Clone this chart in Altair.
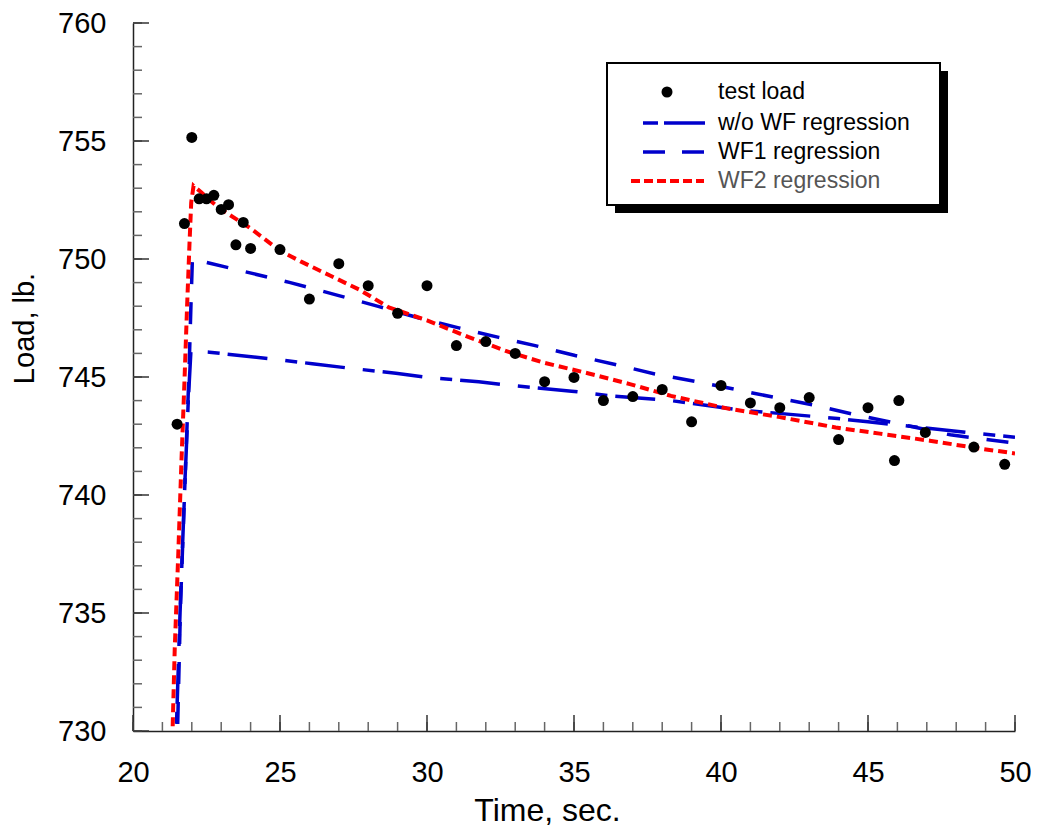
import altair as alt
import pandas as pd

FONT = "Liberation Sans"

# ---- data ----
test_time = [21.5, 21.75, 22.0, 22.25, 22.5, 22.75, 23.0, 23.25, 23.5, 23.75,
             24.0, 25.0, 26.0, 27.0, 28.0, 29.0, 30.0, 31.0, 32.0, 33.0,
             34.0, 35.0, 36.0, 37.0, 38.0, 39.0, 40.0, 41.0, 42.0, 43.0,
             44.0, 45.0, 45.9, 46.05, 46.95, 48.6, 49.65]
test_load = [743.0, 751.5, 755.15, 752.55, 752.55, 752.7, 752.1, 752.3, 750.6, 751.55,
             750.45, 750.4, 748.3, 749.8, 748.87, 747.7, 748.87, 746.33, 746.5, 746.0,
             744.8, 744.98, 744.0, 744.17, 744.47, 743.1, 744.64, 743.9, 743.7, 744.13,
             742.35, 743.7, 741.46, 744.0, 742.65, 742.03, 741.3]

wo_time = [21.48, 21.6, 21.75, 21.88, 21.97, 22.6, 25.0, 26.1, 27.46, 28.94, 30.17,
           31.76, 32.88, 34.92, 36.27, 38.3, 40.68, 43.97, 45.0, 48.4, 50.0]
wo_load = [730.3, 735.0, 740.0, 744.0, 746.1, 746.05, 745.73, 745.56, 745.36, 745.16, 744.96,
           744.8, 744.64, 744.4, 744.2, 744.0, 743.6, 743.24, 743.1, 742.65, 742.45]

wf1_time = [21.52, 21.62, 21.78, 21.9, 21.97, 22.02, 25.32, 27.0, 28.37, 29.73,
            31.08, 32.44, 33.68, 35.04, 36.4, 37.75, 39.2, 40.5, 41.8, 43.2,
            44.5, 46.3, 47.8, 50.0]
wf1_load = [730.3, 735.5, 741.0, 745.0, 748.0, 750.0, 749.01, 748.45, 747.98, 747.5,
            747.08, 746.68, 746.33, 745.91, 745.53, 745.13, 744.8, 744.47, 744.14, 743.8,
            743.42, 742.95, 742.55, 742.2]

wf2_time = [21.35, 21.42, 21.54, 21.65, 21.75, 21.84, 21.92, 21.98, 22.06, 22.15,
            22.3, 22.6, 23.0, 23.5, 24.0, 25.0, 25.7, 26.7, 27.7, 28.7,
            30.0, 31.4, 32.8, 34.0, 35.5, 36.9, 38.3, 40.2, 42.0, 43.9,
            45.4, 47.1, 48.8, 50.0]
wf2_load = [730.2, 733.5, 737.5, 741.5, 744.8, 748.0, 750.6, 752.4, 753.1, 753.0,
            752.85, 752.5, 752.1, 751.7, 751.3, 750.35, 749.9, 749.3, 748.7, 747.95,
            747.4, 746.7, 746.05, 745.6, 745.15, 744.7, 744.2, 743.67, 743.3, 742.86,
            742.6, 742.3, 741.97, 741.76]

series_names = ["test load", "w/o WF regression", "WF1 regression", "WF2 regression"]

x_labels = [20, 25, 30, 35, 40, 45, 50]
y_labels = [730, 735, 740, 745, 750, 755, 760]
x_minor = list(range(20, 51))
y_minor = list(range(730, 761))

W, H = 882, 708

xs = alt.Scale(domain=[20, 50], nice=False, zero=False)
ys = alt.Scale(domain=[730, 760], nice=False, zero=False)

xaxis = alt.Axis(values=x_labels, title="Time, sec.", format="d",
                 labelFont=FONT, labelFontSize=29, labelColor="black", labelPadding=27,
                 labelFlush=False, labelOverlap=False,
                 ticks=False, tickSize=0, grid=False,
                 domainColor="#222222", domainWidth=1.5,
                 titleFont=FONT, titleFontSize=32, titleFontWeight="normal", titleColor="black",
                 titleX=414, titleY=89, titleAlign="center", titleBaseline="alphabetic")
yaxis = alt.Axis(values=y_labels, title="Load, lb.", format="d",
                 labelFont=FONT, labelFontSize=29, labelColor="black", labelPadding=27,
                 labelFlush=False, labelOverlap=False,
                 ticks=False, tickSize=0, grid=False,
                 domainColor="#222222", domainWidth=1.5,
                 titleFont=FONT, titleFontSize=29, titleFontWeight="normal", titleColor="black",
                 titleAngle=270, titleX=-100, titleY=305, titleAlign="center",
                 titleBaseline="alphabetic")


def X(field):
    return alt.X(field, type="quantitative", scale=xs, axis=xaxis)


def Y(field):
    return alt.Y(field, type="quantitative", scale=ys, axis=yaxis)


def leg(x, y, stype, size, sw, lo, dash=None, lcolor="black"):
    kw = dict(orient="none", legendX=x, legendY=y, title=None, padding=0,
              symbolType=stype, symbolSize=size, symbolStrokeWidth=sw,
              labelFont=FONT, labelFontSize=23, labelColor=lcolor, labelOffset=lo,
              labelLimit=500)
    if dash is not None:
        kw["symbolDash"] = dash
    return alt.Legend(**kw)


pts = pd.DataFrame({"t": test_time, "v": test_load, "s": series_names[0]})
wo = pd.DataFrame({"t": wo_time, "v": wo_load, "s": series_names[1]})
wf1 = pd.DataFrame({"t": wf1_time, "v": wf1_load, "s": series_names[2]})
wf2 = pd.DataFrame({"t": wf2_time, "v": wf2_load, "s": series_names[3]})

BLUE = "#0000cc"
RED = "#ff0000"

# inward ticks
xt_minor = alt.Chart(pd.DataFrame({"t": x_minor})).mark_rule(color="#666666", strokeWidth=1.5).encode(
    x=X("t"), y=alt.value(H), y2=alt.value(H - 9))
xt_major = alt.Chart(pd.DataFrame({"t": x_labels})).mark_rule(color="#333333", strokeWidth=1.5).encode(
    x=X("t"), y=alt.value(H), y2=alt.value(H - 16))
yt_minor = alt.Chart(pd.DataFrame({"v": y_minor})).mark_rule(color="#666666", strokeWidth=1.5).encode(
    y=Y("v"), x=alt.value(0), x2=alt.value(9))
yt_major = alt.Chart(pd.DataFrame({"v": y_labels})).mark_rule(color="#333333", strokeWidth=1.5).encode(
    y=Y("v"), x=alt.value(0), x2=alt.value(16))

# legend frame with drop shadow
one = pd.DataFrame({"k": [0]})
shadow = alt.Chart(one).mark_rect(fill="black").encode(
    x=alt.value(482), x2=alt.value(815), y=alt.value(48), y2=alt.value(190))
frame = alt.Chart(one).mark_rect(fill="white", stroke="black", strokeWidth=2).encode(
    x=alt.value(474), x2=alt.value(807), y=alt.value(40), y2=alt.value(182))

wo_line = alt.Chart(wo).mark_line(strokeWidth=3.5, strokeDash=[12, 8, 40, 18], clip=True).encode(
    x=X("t"), y=Y("v"),
    color=alt.Color("s:N", scale=alt.Scale(domain=[series_names[1]], range=[BLUE]),
                    legend=leg(508, 67, "stroke", 3844, 3.5, 11, [15, 6, 41, 6])))
wf1_line = alt.Chart(wf1).mark_line(strokeWidth=3.5, strokeDash=[22, 18], clip=True).encode(
    x=X("t"), y=Y("v"),
    color=alt.Color("s:N", scale=alt.Scale(domain=[series_names[2]], range=[BLUE]),
                    legend=leg(508, 95.5, "stroke", 3969, 3.5, 10, [22, 17])))
wf2_line = alt.Chart(wf2).mark_line(strokeWidth=4, strokeDash=[9, 5], clip=True).encode(
    x=X("t"), y=Y("v"),
    color=alt.Color("s:N", scale=alt.Scale(domain=[series_names[3]], range=[RED]),
                    legend=leg(496, 119.5, "stroke", 5329, 4, 12, [9, 4], "#555555")))
points = alt.Chart(pts).mark_circle(size=121, opacity=1, clip=True).encode(
    x=X("t"), y=Y("v"),
    color=alt.Color("s:N", scale=alt.Scale(domain=[series_names[0]], range=["black"]),
                    legend=leg(522.5, 57.5, "circle", 121, 0, 39.5)))

chart = alt.layer(
    shadow, frame, xt_minor, xt_major, yt_minor, yt_major,
    wo_line, wf1_line, wf2_line, points
).resolve_scale(color="independent").properties(
    width=W, height=H,
    autosize=alt.AutoSizeParams(type="none"),
    padding={"left": 125, "top": 15, "right": 16, "bottom": 96},
    background="white",
).configure_view(stroke=None)

chart.save("out.html", embed_options={"renderer": "svg", "actions": False})
